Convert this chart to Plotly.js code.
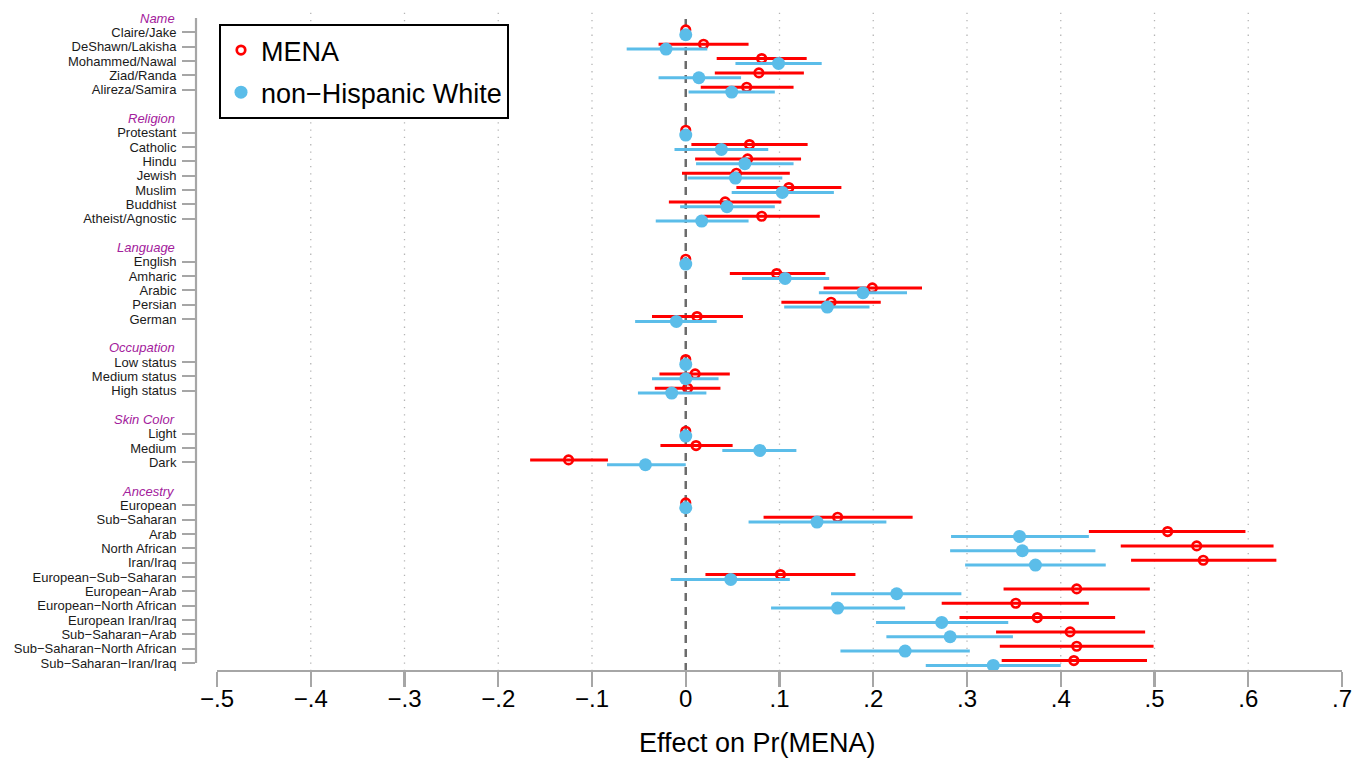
<!DOCTYPE html>
<html>
<head>
<meta charset="utf-8">
<script src="https://cdn.plot.ly/plotly-3.0.1.min.js"></script>
<style>html,body{margin:0;padding:0;background:#fff;}#chart{width:1366px;height:760px;}</style>
</head>
<body>
<div id="chart"></div>
<script>
// ---- data ----
const groups = ['Name', 'Religion', 'Language', 'Occupation', 'Skin Color', 'Ancestry'];
const groupSizes = [5, 7, 5, 3, 3, 12];
const labels = [
  'Claire/Jake', 'DeShawn/Lakisha', 'Mohammed/Nawal', 'Ziad/Randa', 'Alireza/Samira',
  'Protestant', 'Catholic', 'Hindu', 'Jewish', 'Muslim', 'Buddhist', 'Atheist/Agnostic',
  'English', 'Amharic', 'Arabic', 'Persian', 'German',
  'Low status', 'Medium status', 'High status',
  'Light', 'Medium', 'Dark',
  'European', 'Sub\u2212Saharan', 'Arab', 'North African', 'Iran/Iraq',
  'European\u2212Sub\u2212Saharan', 'European\u2212Arab', 'European\u2212North African',
  'European Iran/Iraq', 'Sub\u2212Saharan\u2212Arab', 'Sub\u2212Saharan\u2212North African',
  'Sub\u2212Saharan\u2212Iran/Iraq'
];
const menaEst = [0, 0.019, 0.081, 0.078, 0.065,
  0, 0.068, 0.066, 0.054, 0.110, 0.042, 0.081,
  0, 0.097, 0.199, 0.155, 0.012,
  0, 0.010, 0.002,
  0, 0.011, -0.125,
  0, 0.162, 0.514, 0.545, 0.552, 0.101, 0.417, 0.352, 0.375, 0.410, 0.417, 0.414];
const menaLo = [0, -0.029, 0.033, 0.031, 0.016,
  0, 0.006, 0.010, -0.004, 0.054, -0.018, 0.019,
  0, 0.047, 0.147, 0.102, -0.036,
  0, -0.028, -0.033,
  0, -0.027, -0.166,
  0, 0.083, 0.430, 0.464, 0.475, 0.021, 0.339, 0.273, 0.292, 0.331, 0.335, 0.337];
const menaHi = [0, 0.067, 0.129, 0.126, 0.115,
  0, 0.130, 0.123, 0.111, 0.166, 0.102, 0.143,
  0, 0.149, 0.252, 0.208, 0.061,
  0, 0.047, 0.037,
  0, 0.050, -0.083,
  0, 0.242, 0.597, 0.627, 0.630, 0.181, 0.495, 0.430, 0.458, 0.490, 0.499, 0.492];
const whiteEst = [0, -0.021, 0.099, 0.014, 0.049,
  0, 0.038, 0.063, 0.053, 0.103, 0.044, 0.017,
  0, 0.106, 0.189, 0.151, -0.010,
  0, 0.000, -0.015,
  0, 0.079, -0.043,
  0, 0.140, 0.356, 0.359, 0.373, 0.048, 0.225, 0.162, 0.273, 0.282, 0.234, 0.328];
const whiteLo = [0, -0.063, 0.053, -0.029, 0.003,
  0, -0.012, 0.011, 0.002, 0.049, -0.006, -0.032,
  0, 0.060, 0.142, 0.105, -0.054,
  0, -0.036, -0.051,
  0, 0.039, -0.084,
  0, 0.067, 0.283, 0.282, 0.298, -0.016, 0.155, 0.091, 0.203, 0.214, 0.165, 0.256];
const whiteHi = [0, 0.023, 0.145, 0.059, 0.095,
  0, 0.088, 0.115, 0.103, 0.158, 0.095, 0.067,
  0, 0.153, 0.236, 0.196, 0.033,
  0, 0.035, 0.022,
  0, 0.118, 0.000,
  0, 0.214, 0.430, 0.437, 0.448, 0.111, 0.294, 0.234, 0.344, 0.349, 0.303, 0.400];
const xTickVals = [-0.5, -0.4, -0.3, -0.2, -0.1, 0, 0.1, 0.2, 0.3, 0.4, 0.5, 0.6, 0.7];
const xTickText = ['\u2212.5', '\u2212.4', '\u2212.3', '\u2212.2', '\u2212.1', '0', '.1', '.2', '.3', '.4', '.5', '.6', '.7'];
const gridVals = [-0.4, -0.3, -0.2, -0.1, 0.1, 0.2, 0.3, 0.4, 0.5, 0.6];

// ---- layout rows ----
const rows = [];
const headerRows = [];
let r = 0;
groups.forEach((g, gi) => {
  headerRows.push(r); r++;
  for (let k = 0; k < groupSizes[gi]; k++) { rows.push(r); r++; }
  r++;
});
const lastRow = rows[rows.length - 1];
const off = 0.17;

const red = '#ff0000';
const blue = '#5bbde9';

const traceMena = {
  type: 'scatter', mode: 'markers', name: 'MENA', legendgroup: 'a',
  x: menaEst, y: rows.map(v => v - off),
  error_x: { type: 'data', symmetric: false,
    array: menaHi.map((h, i) => h - menaEst[i]),
    arrayminus: menaLo.map((l, i) => menaEst[i] - l),
    color: red, thickness: 3, width: 0 },
  marker: { symbol: 'circle-open', size: 8.5, color: red, line: { width: 2.7, color: red } },
  hoverinfo: 'x'
};
const traceWhite = {
  type: 'scatter', mode: 'markers', name: 'non\u2212Hispanic White', legendgroup: 'b',
  x: whiteEst, y: rows.map(v => v + off),
  error_x: { type: 'data', symmetric: false,
    array: whiteHi.map((h, i) => h - whiteEst[i]),
    arrayminus: whiteLo.map((l, i) => whiteEst[i] - l),
    color: blue, thickness: 3, width: 0 },
  marker: { symbol: 'circle', size: 13, color: blue, line: { width: 0 } },
  hoverinfo: 'x'
};

const axisGray = '#a6a6a6';
const shapes = [];
gridVals.forEach(v => shapes.push({
  type: 'line', xref: 'x', yref: 'paper', x0: v, x1: v, y0: 0, y1: 1,
  line: { color: '#b5b5b5', width: 1.3, dash: '1.3px,6px' }, layer: 'below'
}));
shapes.push({ type: 'line', xref: 'x', yref: 'paper', x0: 0, x1: 0, y0: 0, y1: 0.992,
  line: { color: '#6b6b6b', width: 2.5, dash: '8px,6px' }, layer: 'below' });
shapes.push({ type: 'line', xref: 'x', yref: 'paper', x0: xTickVals[0], x1: xTickVals[xTickVals.length - 1], y0: 0, y1: 0,
  line: { color: axisGray, width: 2.2 } });
shapes.push({ type: 'line', xref: 'paper', yref: 'y', x0: 0, x1: 0, y0: 0, y1: lastRow,
  line: { color: axisGray, width: 2.2 } });

const annotations = groups.map((g, gi) => ({
  xref: 'paper', yref: 'y', x: 0, y: headerRows[gi], xanchor: 'right', yanchor: 'middle',
  xshift: -19, text: '<i>' + g + '</i>', showarrow: false,
  font: { family: 'Liberation Sans, Arial, sans-serif', size: 13, color: '#a3209c' }
}));
annotations.push({
  xref: 'paper', yref: 'paper', x: (757 - 196) / 1149, y: 0, yshift: -72,
  xanchor: 'center', yanchor: 'middle', showarrow: false,
  text: 'Effect on Pr(MENA)',
  font: { family: 'Liberation Sans, Arial, sans-serif', size: 27, color: '#000' }
});

const layout = {
  width: 1366, height: 760,
  margin: { l: 196, r: 21, t: 12, b: 89 },
  paper_bgcolor: '#fff', plot_bgcolor: '#fff',
  font: { family: 'Liberation Sans, Arial, sans-serif', color: '#000' },
  xaxis: {
    range: [-0.5 - 21 / 937.5, 0.7 + 3 / 937.5],
    tickvals: xTickVals, ticktext: xTickText,
    ticks: 'outside', ticklen: 15, tickwidth: 2.2, tickcolor: axisGray,
    ticklabelstandoff: -9,
    tickfont: { size: 24, color: '#000', family: 'Liberation Sans, Arial, sans-serif' },
    showgrid: false, zeroline: false, showline: false
  },
  yaxis: {
    range: [lastRow + 8 / 14.333, -6 / 14.333],
    tickvals: rows, ticktext: labels,
    ticks: 'outside', ticklen: 13, tickwidth: 2.2, tickcolor: axisGray,
    ticklabelstandoff: 3,
    tickfont: { size: 13, color: '#1a1a1a', family: 'Liberation Sans, Arial, sans-serif' },
    showgrid: false, zeroline: false, showline: false
  },
  showlegend: true,
  legend: {
    x: (219 - 196) / 1149, y: 1 - (24 - 12) / 659, xanchor: 'left', yanchor: 'top',
    bgcolor: '#fff', bordercolor: '#000', borderwidth: 2,
    font: { size: 27, color: '#000', family: 'Liberation Sans, Arial, sans-serif' },
    traceorder: 'grouped', tracegroupgap: 4
  },
  shapes: shapes,
  annotations: annotations
};

Plotly.newPlot('chart', [traceMena, traceWhite], layout, { displayModeBar: false, staticPlot: true });
</script>
</body>
</html>
